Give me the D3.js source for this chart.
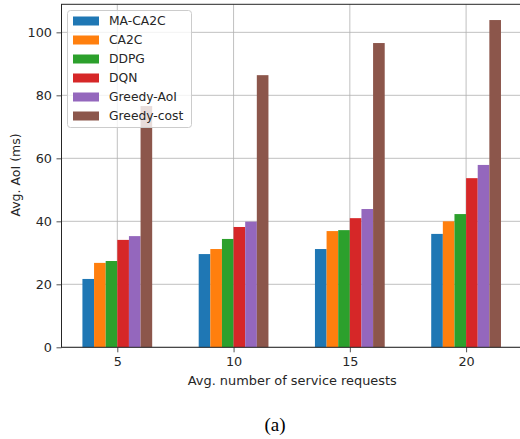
<!DOCTYPE html>
<html><head><meta charset="utf-8">
<script src="https://cdn.jsdelivr.net/npm/d3@7"></script>
<style>
html,body{margin:0;padding:0;background:#fff;}
svg{display:block;font-family:"DejaVu Sans",sans-serif;}
</style></head>
<body><svg id="chart" width="520" height="439"></svg>
<script>
const categories = [5, 10, 15, 20];
const seriesNames = ["MA-CA2C", "CA2C", "DDPG", "DQN", "Greedy-AoI", "Greedy-cost"];
const maCa2c     = [21.7, 29.6, 31.2, 36.0];
const ca2c       = [26.8, 31.2, 36.9, 40.0];
const ddpg       = [27.4, 34.4, 37.2, 42.3];
const dqn        = [34.1, 38.2, 41.0, 53.7];
const greedyAoi  = [35.3, 39.9, 43.9, 57.9];
const greedyCost = [76.6, 86.4, 96.6, 103.9];
const yTicks = [0, 20, 40, 60, 80, 100];
const colors = ["#1f77b4", "#ff7f0e", "#2ca02c", "#d62728", "#9467bd", "#8c564b"];
const series = [maCa2c, ca2c, ddpg, dqn, greedyAoi, greedyCost];

(function () {
const svg = d3.select("#chart");
const barW = 0.5;
const pL = 61.5, pR = 521.9, pT = 4.3, pB = 347.3;
const x = d3.scaleLinear().domain([2.6, 22.4]).range([pL, pR]);
const y = d3.scaleLinear().domain([0, 108.9]).range([pB, pT]);

// grid
const g = svg.append("g");
g.selectAll("line.hg").data(yTicks).join("line")
  .attr("x1", pL).attr("x2", pR)
  .attr("y1", d => y(d)).attr("y2", d => y(d))
  .attr("stroke", "#b0b0b0").attr("stroke-width", 0.8);
g.selectAll("line.vg").data(categories).join("line")
  .attr("x1", d => x(d)).attr("x2", d => x(d))
  .attr("y1", pT).attr("y2", pB)
  .attr("stroke", "#b0b0b0").attr("stroke-width", 0.8);

// bars
series.forEach((vals, si) => {
  const off = (si - 2.5) * barW;
  svg.append("g").selectAll("rect").data(vals).join("rect")
    .attr("x", (d, i) => x(categories[i] + off - barW / 2))
    .attr("width", (d, i) => x(categories[i] + off + barW / 2) - x(categories[i] + off - barW / 2))
    .attr("y", d => y(d))
    .attr("height", d => y(0) - y(d))
    .attr("fill", colors[si]);
});

// axes
const xAxis = d3.axisBottom(x).tickValues(categories).tickSize(5).tickPadding(4.5);
const yAxis = d3.axisLeft(y).tickValues(yTicks).tickSize(5).tickPadding(4.5);
const gx = svg.append("g").attr("transform", `translate(0,${pB})`).call(xAxis);
const gy = svg.append("g").attr("transform", `translate(${pL},0)`).call(yAxis);
[gx, gy].forEach(a => {
  a.select(".domain").remove();
  a.selectAll("text").attr("font-family", "DejaVu Sans").attr("font-size", 12.8).attr("fill", "#262626");
  a.selectAll("line").attr("stroke", "#262626").attr("stroke-width", 0.8);
});
// spines
svg.append("rect").attr("x", pL).attr("y", pT).attr("width", pR - pL).attr("height", pB - pT)
  .attr("fill", "none").attr("stroke", "#262626").attr("stroke-width", 1);

// labels
svg.append("text").attr("x", 292.3).attr("y", 385).attr("text-anchor", "middle")
  .attr("font-size", 12.9).attr("fill", "#262626").text("Avg. number of service requests");
svg.append("text").attr("transform", "translate(19.5,175) rotate(-90)").attr("text-anchor", "middle")
  .attr("font-size", 12.5).attr("fill", "#262626").text("Avg. AoI (ms)");
svg.append("text").attr("x", 275).attr("y", 431).attr("text-anchor", "middle")
  .attr("font-family", "Liberation Serif").attr("font-size", 19).attr("fill", "#000").text("(a)");

// legend
const lg = svg.append("g");
lg.append("rect").attr("x", 67.5).attr("y", 10.5).attr("width", 124).attr("height", 117).attr("rx", 3)
  .attr("fill", "#fff").attr("fill-opacity", 0.8).attr("stroke", "#cccccc").attr("stroke-width", 1);
seriesNames.forEach((name, i) => {
  const cy = 21 + i * 19;
  lg.append("rect").attr("x", 73).attr("y", cy - 4.5).attr("width", 26).attr("height", 9).attr("fill", colors[i]);
  lg.append("text").attr("x", 109).attr("y", cy).attr("dy", "0.35em")
    .attr("font-size", 12.3).attr("fill", "#262626").text(name);
});
})();
</script></body></html>
